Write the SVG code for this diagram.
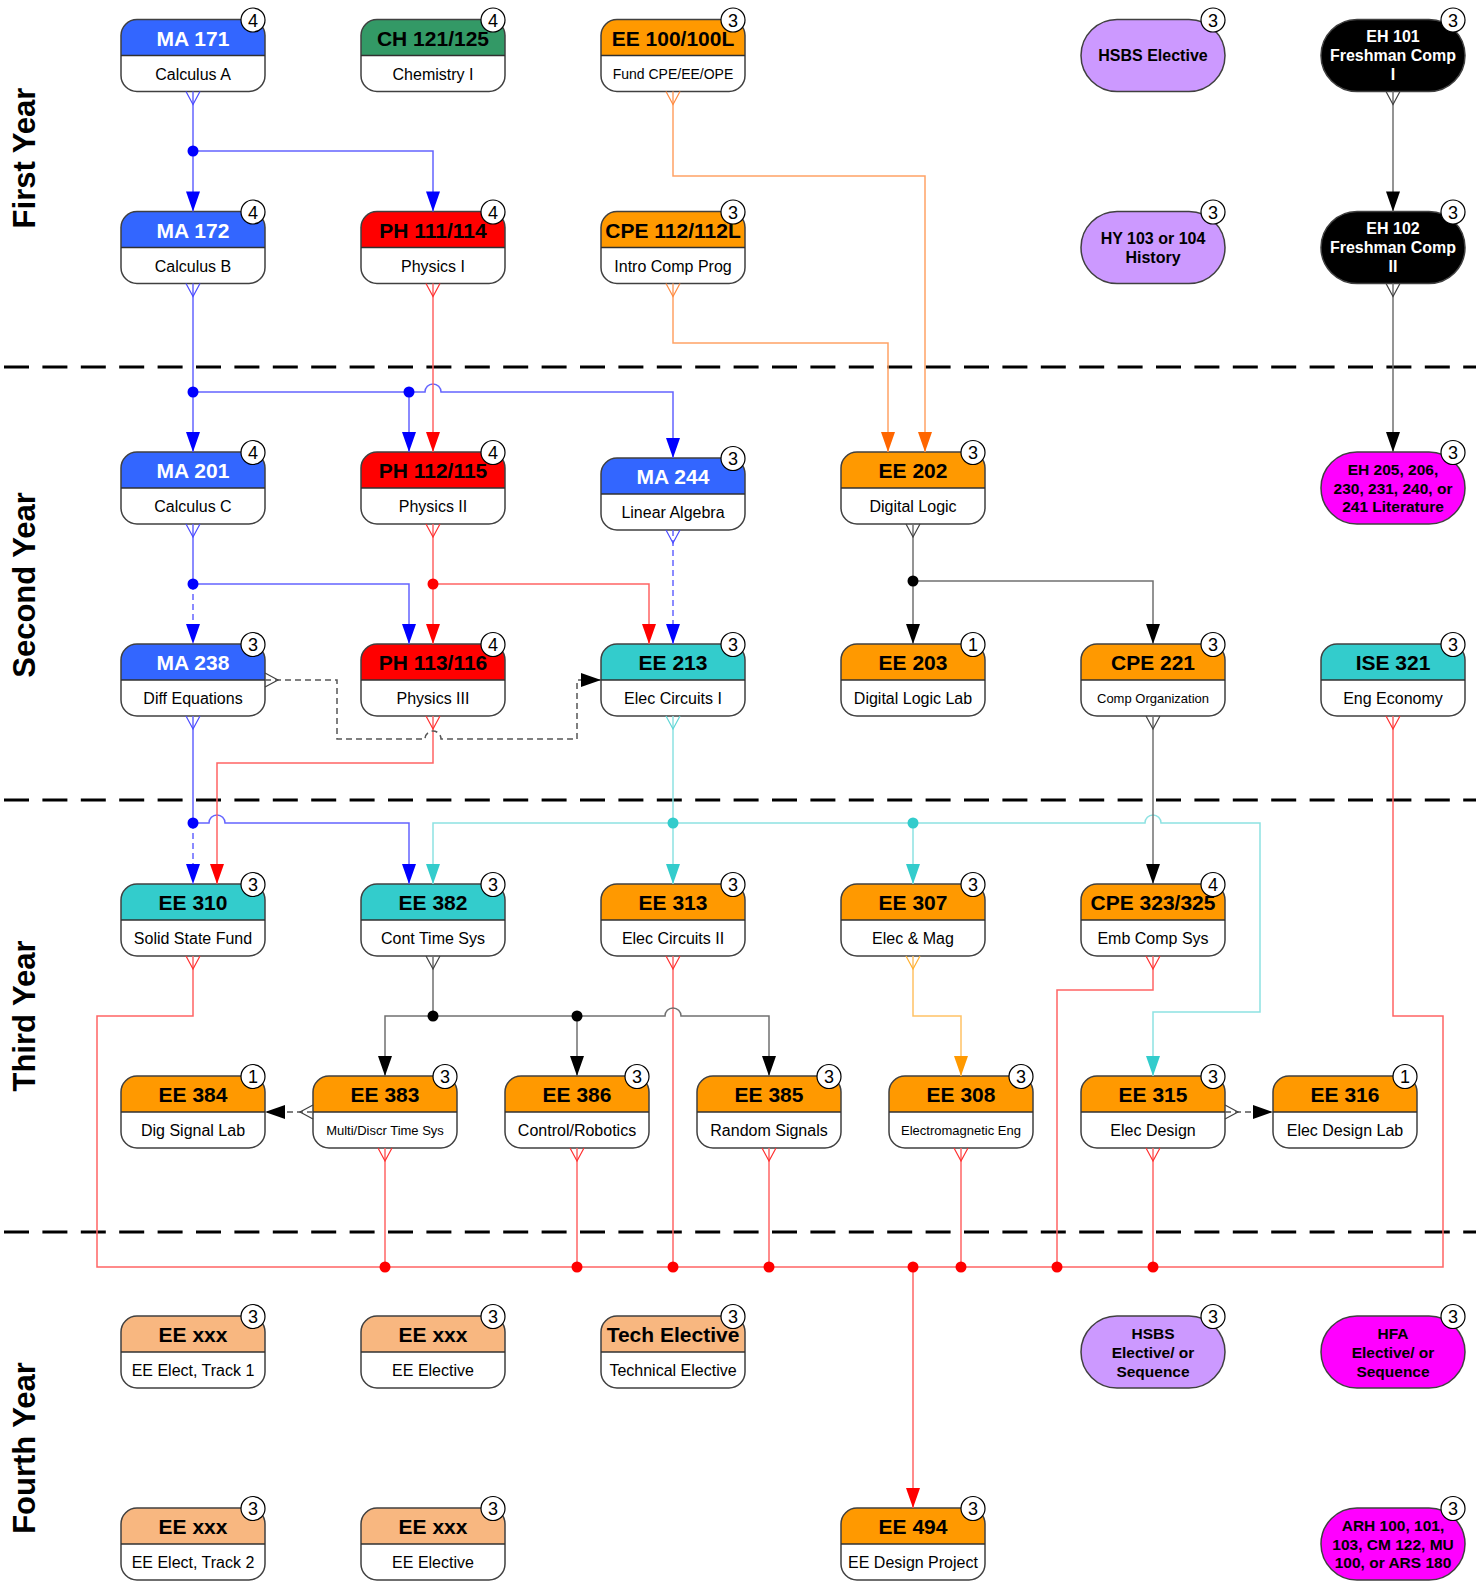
<svg xmlns="http://www.w3.org/2000/svg" width="1476" height="1583" viewBox="0 0 1476 1583">
<style>
text{font-family:"Liberation Sans",Arial,Helvetica,sans-serif;text-anchor:middle}
.bg{fill:#fff}
.ol{fill:none;stroke:#404040;stroke-width:1.5}
.dv{stroke:#303030;stroke-width:1.5}
.t{font-size:21px;font-weight:bold;fill:#000}
.s{font-size:16px;fill:#000}
.s14{font-size:14px}
.s13{font-size:13px}
.bc{fill:#fff;stroke:#000;stroke-width:1.2}
.bn{font-size:18px;fill:#000}
.p{font-size:16px;font-weight:bold;fill:#000}
.p15{font-size:15.5px}
.tw,.p.tw,.t.tw{fill:#fff}
.pill{stroke:#404040;stroke-width:1.5}
.hb{fill:#3366ff}.hg{fill:#339966}.ho{fill:#ff9900}.hr{fill:#ff0000}.ht{fill:#33cccc}.hl{fill:#f8b780}
.pl{fill:#cc99ff}.pm{fill:#ff00ff}.pk{fill:#000}
.sep{stroke:#000;stroke-width:3;stroke-dasharray:25 13.4;fill:none}
.yr{font-size:31px;font-weight:bold;fill:#000}
.c{fill:none;stroke-width:1.5}
.cb{stroke:#6464ff}.cr{stroke:#ff6464}.ct{stroke:#8de2e2}.co{stroke:#ffa366}.cy{stroke:#ffc266}.ck{stroke:#707070}.cd{stroke:#555}
.dash{stroke-dasharray:6 4}
</style>
<defs>
<path id="hdr" d="M0,36 V16 A16,16 0 0 1 16,0 H128 A16,16 0 0 1 144,16 V36 Z"/>
<rect id="frm" width="144" height="72" rx="16"/>
<marker id="ab" markerUnits="userSpaceOnUse" orient="auto" refX="20" refY="7" markerWidth="20" markerHeight="14" overflow="visible"><path d="M0,0 L20,7 L0,14 Z" fill="#0000ff"/></marker>
<marker id="ar" markerUnits="userSpaceOnUse" orient="auto" refX="20" refY="7" markerWidth="20" markerHeight="14" overflow="visible"><path d="M0,0 L20,7 L0,14 Z" fill="#ff0000"/></marker>
<marker id="at" markerUnits="userSpaceOnUse" orient="auto" refX="20" refY="7" markerWidth="20" markerHeight="14" overflow="visible"><path d="M0,0 L20,7 L0,14 Z" fill="#33cccc"/></marker>
<marker id="ao" markerUnits="userSpaceOnUse" orient="auto" refX="20" refY="7" markerWidth="20" markerHeight="14" overflow="visible"><path d="M0,0 L20,7 L0,14 Z" fill="#ff6600"/></marker>
<marker id="ay" markerUnits="userSpaceOnUse" orient="auto" refX="20" refY="7" markerWidth="20" markerHeight="14" overflow="visible"><path d="M0,0 L20,7 L0,14 Z" fill="#ff9900"/></marker>
<marker id="ak" markerUnits="userSpaceOnUse" orient="auto" refX="20" refY="7" markerWidth="20" markerHeight="14" overflow="visible"><path d="M0,0 L20,7 L0,14 Z" fill="#000"/></marker>
<marker id="tb" markerUnits="userSpaceOnUse" orient="auto" refX="0" refY="7" markerWidth="14" markerHeight="14" overflow="visible"><path d="M0,0 L13,7 L0,14" fill="none" stroke="#4b4bff" stroke-width="1.2"/></marker>
<marker id="tr" markerUnits="userSpaceOnUse" orient="auto" refX="0" refY="7" markerWidth="14" markerHeight="14" overflow="visible"><path d="M0,0 L13,7 L0,14" fill="none" stroke="#ff3030" stroke-width="1.2"/></marker>
<marker id="tt" markerUnits="userSpaceOnUse" orient="auto" refX="0" refY="7" markerWidth="14" markerHeight="14" overflow="visible"><path d="M0,0 L13,7 L0,14" fill="none" stroke="#5fd6d6" stroke-width="1.2"/></marker>
<marker id="to" markerUnits="userSpaceOnUse" orient="auto" refX="0" refY="7" markerWidth="14" markerHeight="14" overflow="visible"><path d="M0,0 L13,7 L0,14" fill="none" stroke="#ff8a40" stroke-width="1.2"/></marker>
<marker id="ty" markerUnits="userSpaceOnUse" orient="auto" refX="0" refY="7" markerWidth="14" markerHeight="14" overflow="visible"><path d="M0,0 L13,7 L0,14" fill="none" stroke="#ffb030" stroke-width="1.2"/></marker>
<marker id="tk" markerUnits="userSpaceOnUse" orient="auto" refX="0" refY="7" markerWidth="14" markerHeight="14" overflow="visible"><path d="M0,0 L13,7 L0,14" fill="none" stroke="#404040" stroke-width="1.2"/></marker>
</defs>
<rect width="1476" height="1583" fill="#fff"/>

<g id="separators">
<line class="sep" x1="4" y1="367" x2="1476" y2="367"/>
<line class="sep" x1="4" y1="800" x2="1476" y2="800"/>
<line class="sep" x1="4" y1="1232" x2="1476" y2="1232"/>
</g>

<g id="year-labels">
<text class="yr" transform="translate(35,158) rotate(-90)">First Year</text>
<text class="yr" transform="translate(35,585) rotate(-90)">Second Year</text>
<text class="yr" transform="translate(35,1016) rotate(-90)">Third Year</text>
<text class="yr" transform="translate(35,1448) rotate(-90)">Fourth Year</text>
</g>

<!-- Year 1 -->
<g id="n-ma171" transform="translate(121,19.5)"><use href="#frm" class="bg"/><use href="#hdr" class="hb"/><use href="#frm" class="ol"/><line class="dv" x1="0" y1="36" x2="144" y2="36"/><text class="t tw" x="72" y="26">MA 171</text><text class="s" x="72" y="60">Calculus A</text><circle class="bc" cx="132" cy="0.5" r="12"/><text class="bn" x="132" y="7">4</text></g>
<g id="n-ch121" transform="translate(361,19.5)"><use href="#frm" class="bg"/><use href="#hdr" class="hg"/><use href="#frm" class="ol"/><line class="dv" x1="0" y1="36" x2="144" y2="36"/><text class="t" x="72" y="26">CH 121/125</text><text class="s" x="72" y="60">Chemistry I</text><circle class="bc" cx="132" cy="0.5" r="12"/><text class="bn" x="132" y="7">4</text></g>
<g id="n-ee100" transform="translate(601,19.5)"><use href="#frm" class="bg"/><use href="#hdr" class="ho"/><use href="#frm" class="ol"/><line class="dv" x1="0" y1="36" x2="144" y2="36"/><text class="t" x="72" y="26">EE 100/100L</text><text class="s s14" x="72" y="59.5">Fund CPE/EE/OPE</text><circle class="bc" cx="132" cy="0.5" r="12"/><text class="bn" x="132" y="7">3</text></g>
<g id="n-hsbs1" transform="translate(1081,19.5)"><rect width="144" height="72" rx="36" class="pl pill"/><text class="p" x="72" y="41.7">HSBS Elective</text><circle class="bc" cx="132" cy="0.5" r="12"/><text class="bn" x="132" y="7">3</text></g>
<g id="n-eh101" transform="translate(1321,19.5)"><rect width="144" height="72" rx="36" class="pk pill"/><text class="p tw" x="72" y="22.7">EH 101</text><text class="p tw" x="72" y="41.7">Freshman Comp</text><text class="p tw" x="72" y="60.7">I</text><circle class="bc" cx="132" cy="0.5" r="12"/><text class="bn" x="132" y="7">3</text></g>

<g id="n-ma172" transform="translate(121,211.5)"><use href="#frm" class="bg"/><use href="#hdr" class="hb"/><use href="#frm" class="ol"/><line class="dv" x1="0" y1="36" x2="144" y2="36"/><text class="t tw" x="72" y="26">MA 172</text><text class="s" x="72" y="60">Calculus B</text><circle class="bc" cx="132" cy="0.5" r="12"/><text class="bn" x="132" y="7">4</text></g>
<g id="n-ph111" transform="translate(361,211.5)"><use href="#frm" class="bg"/><use href="#hdr" class="hr"/><use href="#frm" class="ol"/><line class="dv" x1="0" y1="36" x2="144" y2="36"/><text class="t" x="72" y="26">PH 111/114</text><text class="s" x="72" y="60">Physics I</text><circle class="bc" cx="132" cy="0.5" r="12"/><text class="bn" x="132" y="7">4</text></g>
<g id="n-cpe112" transform="translate(601,211.5)"><use href="#frm" class="bg"/><use href="#hdr" class="ho"/><use href="#frm" class="ol"/><line class="dv" x1="0" y1="36" x2="144" y2="36"/><text class="t" x="72" y="26">CPE 112/112L</text><text class="s" x="72" y="60">Intro Comp Prog</text><circle class="bc" cx="132" cy="0.5" r="12"/><text class="bn" x="132" y="7">3</text></g>
<g id="n-hy103" transform="translate(1081,211.5)"><rect width="144" height="72" rx="36" class="pl pill"/><text class="p" x="72" y="32.5">HY 103 or 104</text><text class="p" x="72" y="51">History</text><circle class="bc" cx="132" cy="0.5" r="12"/><text class="bn" x="132" y="7">3</text></g>
<g id="n-eh102" transform="translate(1321,211.5)"><rect width="144" height="72" rx="36" class="pk pill"/><text class="p tw" x="72" y="22.7">EH 102</text><text class="p tw" x="72" y="41.7">Freshman Comp</text><text class="p tw" x="72" y="60.7">II</text><circle class="bc" cx="132" cy="0.5" r="12"/><text class="bn" x="132" y="7">3</text></g>

<!-- Year 2 -->
<g id="n-ma201" transform="translate(121,452)"><use href="#frm" class="bg"/><use href="#hdr" class="hb"/><use href="#frm" class="ol"/><line class="dv" x1="0" y1="36" x2="144" y2="36"/><text class="t tw" x="72" y="26">MA 201</text><text class="s" x="72" y="60">Calculus C</text><circle class="bc" cx="132" cy="0.5" r="12"/><text class="bn" x="132" y="7">4</text></g>
<g id="n-ph112" transform="translate(361,452)"><use href="#frm" class="bg"/><use href="#hdr" class="hr"/><use href="#frm" class="ol"/><line class="dv" x1="0" y1="36" x2="144" y2="36"/><text class="t" x="72" y="26">PH 112/115</text><text class="s" x="72" y="60">Physics II</text><circle class="bc" cx="132" cy="0.5" r="12"/><text class="bn" x="132" y="7">4</text></g>
<g id="n-ma244" transform="translate(601,458)"><use href="#frm" class="bg"/><use href="#hdr" class="hb"/><use href="#frm" class="ol"/><line class="dv" x1="0" y1="36" x2="144" y2="36"/><text class="t tw" x="72" y="26">MA 244</text><text class="s" x="72" y="60">Linear Algebra</text><circle class="bc" cx="132" cy="0.5" r="12"/><text class="bn" x="132" y="7">3</text></g>
<g id="n-ee202" transform="translate(841,452)"><use href="#frm" class="bg"/><use href="#hdr" class="ho"/><use href="#frm" class="ol"/><line class="dv" x1="0" y1="36" x2="144" y2="36"/><text class="t" x="72" y="26">EE 202</text><text class="s" x="72" y="60">Digital Logic</text><circle class="bc" cx="132" cy="0.5" r="12"/><text class="bn" x="132" y="7">3</text></g>
<g id="n-eh205" transform="translate(1321,452)"><rect width="144" height="72" rx="36" class="pm pill"/><text class="p p15" x="72" y="23">EH 205, 206,</text><text class="p p15" x="72" y="41.5">230, 231, 240, or</text><text class="p p15" x="72" y="60">241 Literature</text><circle class="bc" cx="132" cy="0.5" r="12"/><text class="bn" x="132" y="7">3</text></g>

<g id="n-ma238" transform="translate(121,644)"><use href="#frm" class="bg"/><use href="#hdr" class="hb"/><use href="#frm" class="ol"/><line class="dv" x1="0" y1="36" x2="144" y2="36"/><text class="t tw" x="72" y="26">MA 238</text><text class="s" x="72" y="60">Diff Equations</text><circle class="bc" cx="132" cy="0.5" r="12"/><text class="bn" x="132" y="7">3</text></g>
<g id="n-ph113" transform="translate(361,644)"><use href="#frm" class="bg"/><use href="#hdr" class="hr"/><use href="#frm" class="ol"/><line class="dv" x1="0" y1="36" x2="144" y2="36"/><text class="t" x="72" y="26">PH 113/116</text><text class="s" x="72" y="60">Physics III</text><circle class="bc" cx="132" cy="0.5" r="12"/><text class="bn" x="132" y="7">4</text></g>
<g id="n-ee213" transform="translate(601,644)"><use href="#frm" class="bg"/><use href="#hdr" class="ht"/><use href="#frm" class="ol"/><line class="dv" x1="0" y1="36" x2="144" y2="36"/><text class="t" x="72" y="26">EE 213</text><text class="s" x="72" y="60">Elec Circuits I</text><circle class="bc" cx="132" cy="0.5" r="12"/><text class="bn" x="132" y="7">3</text></g>
<g id="n-ee203" transform="translate(841,644)"><use href="#frm" class="bg"/><use href="#hdr" class="ho"/><use href="#frm" class="ol"/><line class="dv" x1="0" y1="36" x2="144" y2="36"/><text class="t" x="72" y="26">EE 203</text><text class="s" x="72" y="60">Digital Logic Lab</text><circle class="bc" cx="132" cy="0.5" r="12"/><text class="bn" x="132" y="7">1</text></g>
<g id="n-cpe221" transform="translate(1081,644)"><use href="#frm" class="bg"/><use href="#hdr" class="ho"/><use href="#frm" class="ol"/><line class="dv" x1="0" y1="36" x2="144" y2="36"/><text class="t" x="72" y="26">CPE 221</text><text class="s s13" x="72" y="59">Comp Organization</text><circle class="bc" cx="132" cy="0.5" r="12"/><text class="bn" x="132" y="7">3</text></g>
<g id="n-ise321" transform="translate(1321,644)"><use href="#frm" class="bg"/><use href="#hdr" class="ht"/><use href="#frm" class="ol"/><line class="dv" x1="0" y1="36" x2="144" y2="36"/><text class="t" x="72" y="26">ISE 321</text><text class="s" x="72" y="60">Eng Economy</text><circle class="bc" cx="132" cy="0.5" r="12"/><text class="bn" x="132" y="7">3</text></g>

<!-- Year 3 -->
<g id="n-ee310" transform="translate(121,884)"><use href="#frm" class="bg"/><use href="#hdr" class="ht"/><use href="#frm" class="ol"/><line class="dv" x1="0" y1="36" x2="144" y2="36"/><text class="t" x="72" y="26">EE 310</text><text class="s" x="72" y="60">Solid State Fund</text><circle class="bc" cx="132" cy="0.5" r="12"/><text class="bn" x="132" y="7">3</text></g>
<g id="n-ee382" transform="translate(361,884)"><use href="#frm" class="bg"/><use href="#hdr" class="ht"/><use href="#frm" class="ol"/><line class="dv" x1="0" y1="36" x2="144" y2="36"/><text class="t" x="72" y="26">EE 382</text><text class="s" x="72" y="60">Cont Time Sys</text><circle class="bc" cx="132" cy="0.5" r="12"/><text class="bn" x="132" y="7">3</text></g>
<g id="n-ee313" transform="translate(601,884)"><use href="#frm" class="bg"/><use href="#hdr" class="ho"/><use href="#frm" class="ol"/><line class="dv" x1="0" y1="36" x2="144" y2="36"/><text class="t" x="72" y="26">EE 313</text><text class="s" x="72" y="60">Elec Circuits II</text><circle class="bc" cx="132" cy="0.5" r="12"/><text class="bn" x="132" y="7">3</text></g>
<g id="n-ee307" transform="translate(841,884)"><use href="#frm" class="bg"/><use href="#hdr" class="ho"/><use href="#frm" class="ol"/><line class="dv" x1="0" y1="36" x2="144" y2="36"/><text class="t" x="72" y="26">EE 307</text><text class="s" x="72" y="60">Elec &amp; Mag</text><circle class="bc" cx="132" cy="0.5" r="12"/><text class="bn" x="132" y="7">3</text></g>
<g id="n-cpe323" transform="translate(1081,884)"><use href="#frm" class="bg"/><use href="#hdr" class="ho"/><use href="#frm" class="ol"/><line class="dv" x1="0" y1="36" x2="144" y2="36"/><text class="t" x="72" y="26">CPE 323/325</text><text class="s" x="72" y="60">Emb Comp Sys</text><circle class="bc" cx="132" cy="0.5" r="12"/><text class="bn" x="132" y="7">4</text></g>

<g id="n-ee384" transform="translate(121,1076)"><use href="#frm" class="bg"/><use href="#hdr" class="ho"/><use href="#frm" class="ol"/><line class="dv" x1="0" y1="36" x2="144" y2="36"/><text class="t" x="72" y="26">EE 384</text><text class="s" x="72" y="60">Dig Signal Lab</text><circle class="bc" cx="132" cy="0.5" r="12"/><text class="bn" x="132" y="7">1</text></g>
<g id="n-ee383" transform="translate(313,1076)"><use href="#frm" class="bg"/><use href="#hdr" class="ho"/><use href="#frm" class="ol"/><line class="dv" x1="0" y1="36" x2="144" y2="36"/><text class="t" x="72" y="26">EE 383</text><text class="s s13" x="72" y="59">Multi/Discr Time Sys</text><circle class="bc" cx="132" cy="0.5" r="12"/><text class="bn" x="132" y="7">3</text></g>
<g id="n-ee386" transform="translate(505,1076)"><use href="#frm" class="bg"/><use href="#hdr" class="ho"/><use href="#frm" class="ol"/><line class="dv" x1="0" y1="36" x2="144" y2="36"/><text class="t" x="72" y="26">EE 386</text><text class="s" x="72" y="60">Control/Robotics</text><circle class="bc" cx="132" cy="0.5" r="12"/><text class="bn" x="132" y="7">3</text></g>
<g id="n-ee385" transform="translate(697,1076)"><use href="#frm" class="bg"/><use href="#hdr" class="ho"/><use href="#frm" class="ol"/><line class="dv" x1="0" y1="36" x2="144" y2="36"/><text class="t" x="72" y="26">EE 385</text><text class="s" x="72" y="60">Random Signals</text><circle class="bc" cx="132" cy="0.5" r="12"/><text class="bn" x="132" y="7">3</text></g>
<g id="n-ee308" transform="translate(889,1076)"><use href="#frm" class="bg"/><use href="#hdr" class="ho"/><use href="#frm" class="ol"/><line class="dv" x1="0" y1="36" x2="144" y2="36"/><text class="t" x="72" y="26">EE 308</text><text class="s s13" x="72" y="59">Electromagnetic Eng</text><circle class="bc" cx="132" cy="0.5" r="12"/><text class="bn" x="132" y="7">3</text></g>
<g id="n-ee315" transform="translate(1081,1076)"><use href="#frm" class="bg"/><use href="#hdr" class="ho"/><use href="#frm" class="ol"/><line class="dv" x1="0" y1="36" x2="144" y2="36"/><text class="t" x="72" y="26">EE 315</text><text class="s" x="72" y="60">Elec Design</text><circle class="bc" cx="132" cy="0.5" r="12"/><text class="bn" x="132" y="7">3</text></g>
<g id="n-ee316" transform="translate(1273,1076)"><use href="#frm" class="bg"/><use href="#hdr" class="ho"/><use href="#frm" class="ol"/><line class="dv" x1="0" y1="36" x2="144" y2="36"/><text class="t" x="72" y="26">EE 316</text><text class="s" x="72" y="60">Elec Design Lab</text><circle class="bc" cx="132" cy="0.5" r="12"/><text class="bn" x="132" y="7">1</text></g>

<!-- Year 4 -->
<g id="n-eexxx1" transform="translate(121,1316)"><use href="#frm" class="bg"/><use href="#hdr" class="hl"/><use href="#frm" class="ol"/><line class="dv" x1="0" y1="36" x2="144" y2="36"/><text class="t" x="72" y="26">EE xxx</text><text class="s" x="72" y="60">EE Elect, Track 1</text><circle class="bc" cx="132" cy="0.5" r="12"/><text class="bn" x="132" y="7">3</text></g>
<g id="n-eexxx2" transform="translate(361,1316)"><use href="#frm" class="bg"/><use href="#hdr" class="hl"/><use href="#frm" class="ol"/><line class="dv" x1="0" y1="36" x2="144" y2="36"/><text class="t" x="72" y="26">EE xxx</text><text class="s" x="72" y="60">EE Elective</text><circle class="bc" cx="132" cy="0.5" r="12"/><text class="bn" x="132" y="7">3</text></g>
<g id="n-tech" transform="translate(601,1316)"><use href="#frm" class="bg"/><use href="#hdr" class="hl"/><use href="#frm" class="ol"/><line class="dv" x1="0" y1="36" x2="144" y2="36"/><text class="t" x="72" y="26">Tech Elective</text><text class="s" x="72" y="60">Technical Elective</text><circle class="bc" cx="132" cy="0.5" r="12"/><text class="bn" x="132" y="7">3</text></g>
<g id="n-hsbs2" transform="translate(1081,1316)"><rect width="144" height="72" rx="36" class="pl pill"/><text class="p p15" x="72" y="22.5">HSBS</text><text class="p p15" x="72" y="41.5">Elective/ or</text><text class="p p15" x="72" y="60.5">Sequence</text><circle class="bc" cx="132" cy="0.5" r="12"/><text class="bn" x="132" y="7">3</text></g>
<g id="n-hfa" transform="translate(1321,1316)"><rect width="144" height="72" rx="36" class="pm pill"/><text class="p p15" x="72" y="22.5">HFA</text><text class="p p15" x="72" y="41.5">Elective/ or</text><text class="p p15" x="72" y="60.5">Sequence</text><circle class="bc" cx="132" cy="0.5" r="12"/><text class="bn" x="132" y="7">3</text></g>

<g id="n-eexxx3" transform="translate(121,1508)"><use href="#frm" class="bg"/><use href="#hdr" class="hl"/><use href="#frm" class="ol"/><line class="dv" x1="0" y1="36" x2="144" y2="36"/><text class="t" x="72" y="26">EE xxx</text><text class="s" x="72" y="60">EE Elect, Track 2</text><circle class="bc" cx="132" cy="0.5" r="12"/><text class="bn" x="132" y="7">3</text></g>
<g id="n-eexxx4" transform="translate(361,1508)"><use href="#frm" class="bg"/><use href="#hdr" class="hl"/><use href="#frm" class="ol"/><line class="dv" x1="0" y1="36" x2="144" y2="36"/><text class="t" x="72" y="26">EE xxx</text><text class="s" x="72" y="60">EE Elective</text><circle class="bc" cx="132" cy="0.5" r="12"/><text class="bn" x="132" y="7">3</text></g>
<g id="n-ee494" transform="translate(841,1508)"><use href="#frm" class="bg"/><use href="#hdr" class="ho"/><use href="#frm" class="ol"/><line class="dv" x1="0" y1="36" x2="144" y2="36"/><text class="t" x="72" y="26">EE 494</text><text class="s" x="72" y="60">EE Design Project</text><circle class="bc" cx="132" cy="0.5" r="12"/><text class="bn" x="132" y="7">3</text></g>
<g id="n-arh" transform="translate(1321,1508)"><rect width="144" height="72" rx="36" class="pm pill"/><text class="p p15" x="72" y="23">ARH 100, 101,</text><text class="p p15" x="72" y="41.5">103, CM 122, MU</text><text class="p p15" x="72" y="60">100, or ARS 180</text><circle class="bc" cx="132" cy="0.5" r="12"/><text class="bn" x="132" y="7">3</text></g>

<g id="connectors">
<!-- blue -->
<path class="c cb" d="M193,91.5 V211.5" marker-start="url(#tb)" marker-end="url(#ab)"/>
<path class="c cb" d="M193,151 H433 V211.5" marker-end="url(#ab)"/>
<path class="c cb" d="M193,283.5 V452" marker-start="url(#tb)" marker-end="url(#ab)"/>
<path class="c cb" d="M193,392 H409 V452" marker-end="url(#ab)"/>
<path class="c cb" d="M409,392 H425 A8,8 0 0 1 441,392 H673 V458" marker-end="url(#ab)"/>
<path class="c cb" d="M193,524 V584" marker-start="url(#tb)"/>
<path class="c cb dash" d="M193,584 V644" marker-end="url(#ab)"/>
<path class="c cb" d="M193,584 H409 V644" marker-end="url(#ab)"/>
<path class="c cb dash" d="M673,530 V644" marker-start="url(#tb)" marker-end="url(#ab)"/>
<path class="c cb" d="M193,716 V823" marker-start="url(#tb)"/>
<path class="c cb dash" d="M193,823 V884" marker-end="url(#ab)"/>
<path class="c cb" d="M193,823 H209 A8,8 0 0 1 225,823 H409 V884" marker-end="url(#ab)"/>
<g fill="#0000ff"><circle cx="193" cy="151" r="5.5"/><circle cx="193" cy="392" r="5.5"/><circle cx="409" cy="392" r="5.5"/><circle cx="193" cy="584" r="5.5"/><circle cx="193" cy="823" r="5.5"/></g>
<!-- red -->
<path class="c cr" d="M433,283.5 V452" marker-start="url(#tr)" marker-end="url(#ar)"/>
<path class="c cr" d="M433,524 V644" marker-start="url(#tr)" marker-end="url(#ar)"/>
<path class="c cr" d="M433,584 H649 V644" marker-end="url(#ar)"/>
<path class="c cr" d="M433,716 V763 H217 V884" marker-start="url(#tr)" marker-end="url(#ar)"/>
<path class="c cr" d="M193,956 V1016 H97 V1267 H913" marker-start="url(#tr)"/>
<path class="c cr" d="M1393,716 V1016 H1443 V1267 H913" marker-start="url(#tr)"/>
<path class="c cr" d="M385,1148 V1267" marker-start="url(#tr)"/>
<path class="c cr" d="M577,1148 V1267" marker-start="url(#tr)"/>
<path class="c cr" d="M673,956 V1267" marker-start="url(#tr)"/>
<path class="c cr" d="M769,1148 V1267" marker-start="url(#tr)"/>
<path class="c cr" d="M961,1148 V1267" marker-start="url(#tr)"/>
<path class="c cr" d="M1153,956 V990 H1057 V1267" marker-start="url(#tr)"/>
<path class="c cr" d="M1153,1148 V1267" marker-start="url(#tr)"/>
<path class="c cr" d="M913,1267 V1508" marker-end="url(#ar)"/>
<g fill="#ff0000"><circle cx="433" cy="584" r="5.5"/><circle cx="385" cy="1267" r="5.5"/><circle cx="577" cy="1267" r="5.5"/><circle cx="673" cy="1267" r="5.5"/><circle cx="769" cy="1267" r="5.5"/><circle cx="913" cy="1267" r="5.5"/><circle cx="961" cy="1267" r="5.5"/><circle cx="1057" cy="1267" r="5.5"/><circle cx="1153" cy="1267" r="5.5"/></g>
<!-- teal -->
<path class="c ct" d="M673,716 V884" marker-start="url(#tt)" marker-end="url(#at)"/>
<path class="c ct" d="M673,823 H433 V884" marker-end="url(#at)"/>
<path class="c ct" d="M673,823 H1145 A8,8 0 0 1 1161,823 H1260 V1012 H1153 V1076" marker-end="url(#at)"/>
<path class="c ct" d="M913,823 V884" marker-end="url(#at)"/>
<g fill="#33cccc"><circle cx="673" cy="823" r="5.5"/><circle cx="913" cy="823" r="5.5"/></g>
<!-- orange -->
<path class="c co" d="M673,91.5 V176 H925 V452" marker-start="url(#to)" marker-end="url(#ao)"/>
<path class="c co" d="M673,283.5 V343 H888 V452" marker-start="url(#to)" marker-end="url(#ao)"/>
<path class="c cy" d="M913,956 V1016 H961 V1076" marker-start="url(#ty)" marker-end="url(#ay)"/>
<!-- black -->
<path class="c ck" d="M1393,91.5 V211.5" marker-start="url(#tk)" marker-end="url(#ak)"/>
<path class="c ck" d="M1393,283.5 V452" marker-start="url(#tk)" marker-end="url(#ak)"/>
<path class="c ck" d="M913,524 V644" marker-start="url(#tk)" marker-end="url(#ak)"/>
<path class="c ck" d="M913,581 H1153 V644" marker-end="url(#ak)"/>
<path class="c ck" d="M1153,716 V884" marker-start="url(#tk)" marker-end="url(#ak)"/>
<path class="c ck" d="M433,956 V1016 H385 V1076" marker-start="url(#tk)" marker-end="url(#ak)"/>
<path class="c ck" d="M433,1016 H577 V1076" marker-end="url(#ak)"/>
<path class="c ck" d="M577,1016 H665 A8,8 0 0 1 681,1016 H769 V1076" marker-end="url(#ak)"/>
<g fill="#000"><circle cx="913" cy="581" r="5.5"/><circle cx="433" cy="1016" r="5.5"/><circle cx="577" cy="1016" r="5.5"/></g>
<!-- dashed corequisites -->
<path class="c cd dash" d="M265,680 H337 V739 H425 A8,8 0 0 1 441,739 H577 V680 H601" marker-start="url(#tk)" marker-end="url(#ak)"/>
<path class="c cd dash" d="M313,1112 H265" marker-start="url(#tk)" marker-end="url(#ak)"/>
<path class="c cd dash" d="M1225,1112 H1273" marker-start="url(#tk)" marker-end="url(#ak)"/>
</g>
</svg>
